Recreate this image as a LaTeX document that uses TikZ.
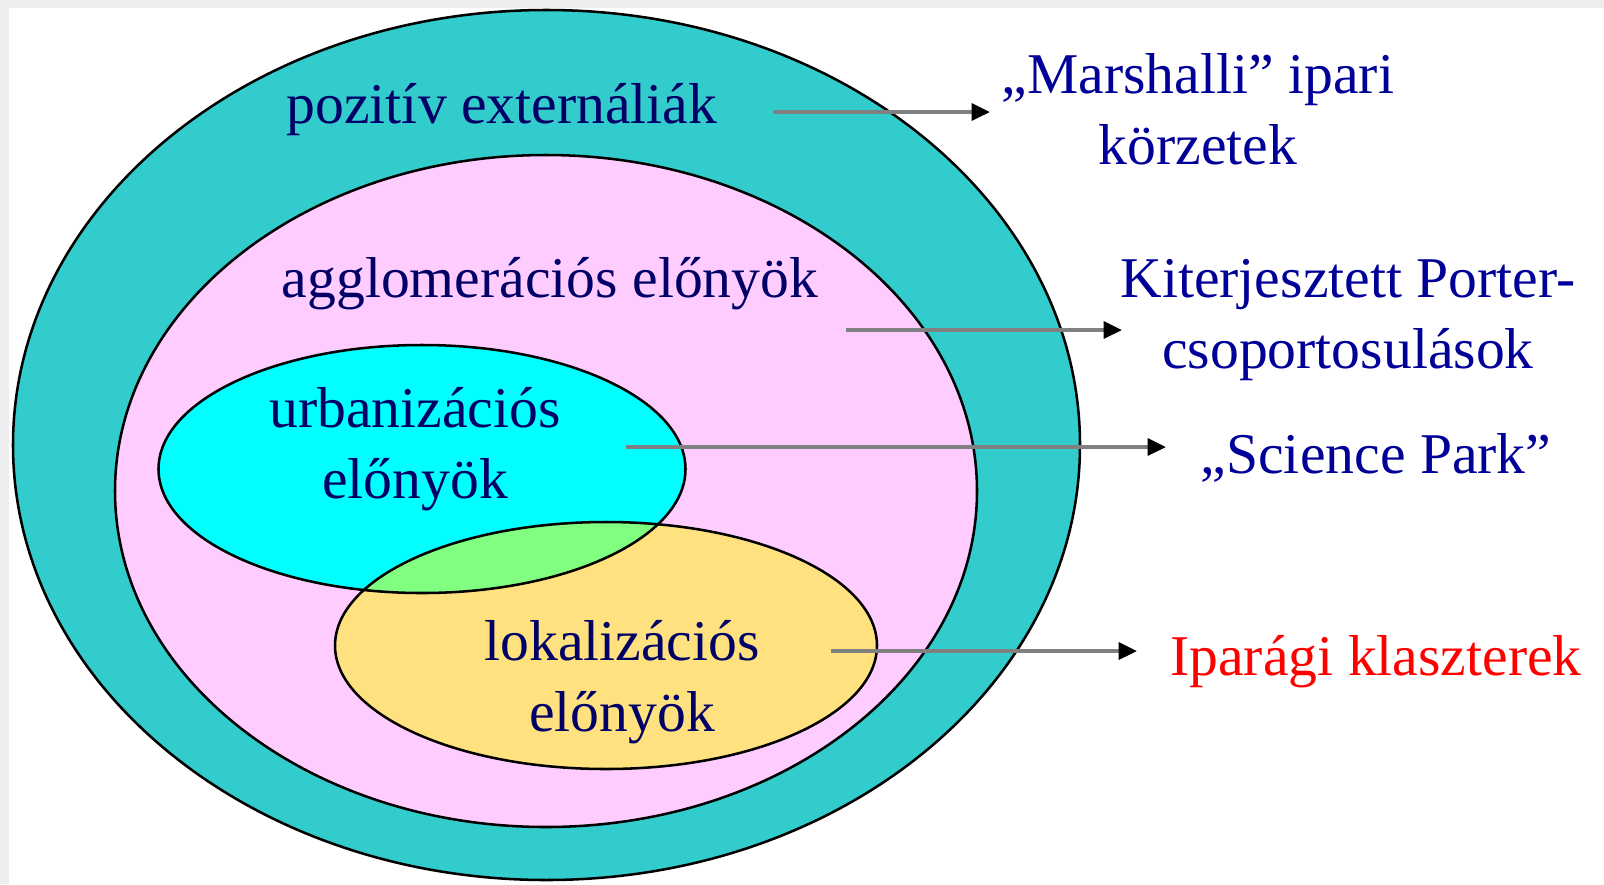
\documentclass[tikz,border=0pt]{standalone}
\usepackage{fontspec}
\setmainfont{Liberation Serif}
\usetikzlibrary{arrows.meta}
\definecolor{frame}{HTML}{EDEDF0}
\definecolor{teal}{HTML}{33CCCC}
\definecolor{pinkish}{HTML}{FFCCFF}
\definecolor{cyanish}{HTML}{00FFFF}
\definecolor{yellowish}{HTML}{FFE17F}
\definecolor{lens}{HTML}{80FF80}
\definecolor{navy}{HTML}{000066}
\definecolor{blueish}{HTML}{000099}
\tikzset{
  set/.style={draw=black, line width=1.8pt},
  lbl/.style={font=\fontsize{41}{50}\selectfont, align=center, anchor=base, inner sep=0pt},
  arr/.style={draw=black!50, line width=2.6pt, -{Triangle[black, length=13pt, width=12pt]}}
}
\begin{document}
\begin{tikzpicture}[x=0.025cm, y=-0.025cm]
    \useasboundingbox (0,0) rectangle (1604,884);
    \fill[frame] (0,0) rectangle (1604,884);
    \fill[white] (9,8) rectangle (1604,884);
    \draw[set, fill=teal] (546.5,445) ellipse [x radius=533.5, y radius=435];
    \draw[set, fill=pinkish] (546,491) ellipse [x radius=431, y radius=336];
    \fill[cyanish] (422,469) ellipse [x radius=263.5, y radius=124];
    \fill[yellowish] (606,645.5) ellipse [x radius=271, y radius=123.5];
    \begin{scope}
        \clip (422,469) ellipse [x radius=263.5, y radius=124];
        \fill[lens] (606,645.5) ellipse [x radius=271, y radius=123.5];
    \end{scope}
    \draw[set] (422,469) ellipse [x radius=263.5, y radius=124];
    \draw[set] (606,645.5) ellipse [x radius=271, y radius=123.5];
    % two-line labels sit on their last line
    \node[lbl, text=navy] (pozitiv) at (502,123) {pozitív externáliák};
    \node[lbl, text=navy] (agglo) at (550,297) {agglomerációs előnyök};
    \node[lbl, text=navy] (urban) at (415,498) {urbanizációs\\előnyök};
    \node[lbl, text=navy] (lokal) at (622,731) {lokalizációs\\előnyök};
    \node[lbl, text=blueish] (marsh) at (1198,164) {„Marshalli” ipari\\körzetek};
    \node[lbl, text=blueish] (porter) at (1348,368) {Kiterjesztett Porter-\\csoportosulások};
    \node[lbl, text=blueish] (science) at (1376,473) {„Science Park”};
    \node[lbl, text=red] (klaszter) at (1376,675) {Iparági klaszterek};
    \coordinate (pozitivout) at (773,112);
    \coordinate (marshin) at (990,112);
    \coordinate (aggloout) at (846,330);
    \coordinate (porterin) at (1122,330);
    \coordinate (urbanout) at (626,447);
    \coordinate (sciencein) at (1166,447);
    \coordinate (lokalout) at (831,651);
    \coordinate (klaszterin) at (1137,651);
    \draw[arr] (pozitivout) -- (marshin);
    \draw[arr] (aggloout) -- (porterin);
    \draw[arr] (urbanout) -- (sciencein);
    \draw[arr] (lokalout) -- (klaszterin);
\end{tikzpicture}
\end{document}
